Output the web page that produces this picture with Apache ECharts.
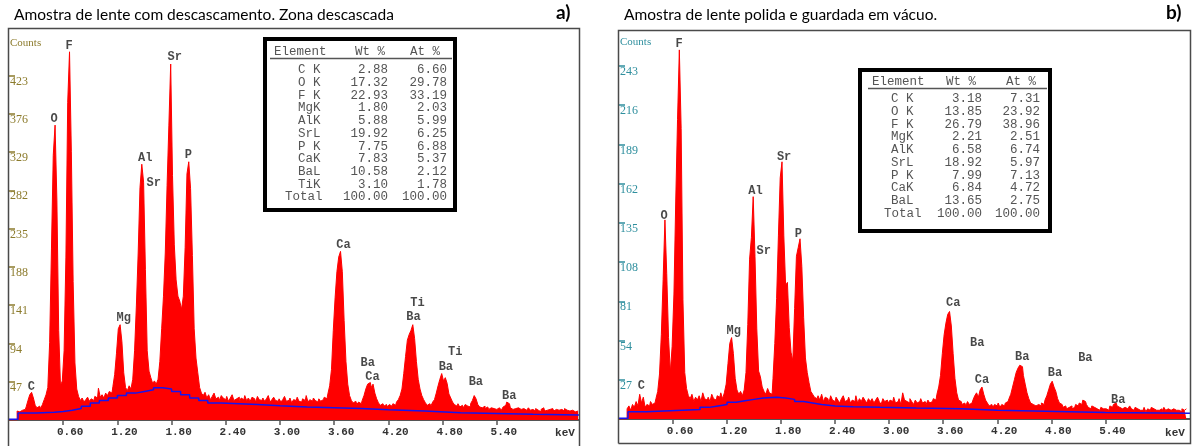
<!DOCTYPE html>
<html><head><meta charset="utf-8">
<script src="https://cdn.jsdelivr.net/npm/echarts@6/dist/echarts.min.js"></script>
<style>html,body{margin:0;padding:0;background:#fff}#c{width:1193px;height:446px}</style>
</head><body><div id="c"></div>
<script>
// channel width (keV) of the spectra below; first channel at 0.00 keV
const binWidth = 0.02;

// Panel a) counts per channel, 0.00 .. 6.30 keV
const specA = [
 0,0,0,0,0,11,10,12,11,13,
 16,24,31,34,27,18,15,17,14,19,
 25,31,40,95,210,325,362,270,110,42,
 48,85,200,390,452,330,170,70,38,29,
 24,27,22,25,28,23,26,24,29,27,
 39,28,31,27,33,30,35,33,41,56,
 82,112,117,96,58,40,36,42,38,50,
 85,140,205,285,314,292,185,85,60,52,
 45,48,44,50,72,112,152,205,288,362,
 437,300,215,172,152,146,136,152,212,302,
 317,284,202,112,76,58,40,33,30,34,
 27,31,25,29,33,26,28,24,30,27,
 25,29,23,27,31,24,26,28,22,27,
 25,30,24,27,23,28,26,22,29,25,
 24,27,23,26,30,22,25,28,24,23,
 26,22,25,29,23,24,27,21,25,24,
 28,23,22,26,24,30,22,25,23,27,
 24,22,26,23,25,28,26,32,42,62,
 110,150,182,200,207,182,122,72,44,30,
 24,21,23,19,22,20,24,30,38,44,
 46,40,44,33,26,21,18,20,17,19,
 16,19,17,20,18,22,25,30,38,57,
 78,98,105,110,117,100,72,50,38,30,
 25,21,18,20,17,22,25,33,42,50,
 57,48,52,45,32,27,22,19,17,20,
 16,18,15,19,17,16,20,24,30,26,
 19,16,15,17,14,16,13,15,14,16,
 13,15,14,12,16,18,22,20,15,13,
 14,12,15,13,11,14,12,13,15,12,
 13,11,14,12,10,13,15,11,12,13,
 12,14,11,13,12,10,13,11,14,12,
 11,13,12,10,12,11
];

// Panel b) counts per channel, 0.00 .. 6.30 keV
const specB = [
 0,0,0,0,0,7,9,6,10,8,
 12,9,17,11,15,8,10,9,12,10,
 11,14,19,31,58,96,137,100,56,32,
 50,86,150,206,254,200,82,32,21,16,
 14,17,12,15,13,16,12,18,14,13,
 15,12,17,14,13,16,15,18,14,18,
 24,38,52,56,45,28,20,17,19,16,
 20,32,65,110,125,153,112,62,33,29,
 22,19,17,21,18,17,28,52,83,126,
 166,177,126,92,94,63,46,40,76,112,
 118,124,105,70,42,32,25,19,17,15,
 14,16,13,17,12,15,14,11,16,13,
 12,15,13,11,14,16,12,13,15,11,
 13,12,16,11,14,12,15,13,11,14,
 12,14,11,13,15,12,10,14,12,13,
 11,13,12,15,11,12,14,10,18,13,
 12,11,14,12,10,13,11,12,14,11,
 12,10,13,11,12,14,13,17,22,30,
 45,58,66,72,74,64,45,28,18,13,
 12,10,11,9,12,10,11,13,16,18,
 15,20,22,17,13,11,9,10,8,10,
 9,11,8,10,9,11,12,14,17,22,
 27,32,35,37,36,30,24,18,14,11,
 10,9,8,10,9,11,10,13,16,20,
 24,26,22,19,14,11,10,8,9,7,
 8,9,7,8,10,9,11,10,13,12,
 10,8,7,9,8,7,8,6,8,7,
 7,8,6,9,8,10,11,9,8,7,
 6,8,7,6,9,7,6,8,7,6,
 7,6,8,5,7,6,8,7,6,7,
 6,7,5,8,6,7,6,5,7,6,
 7,6,5,7,6,7
];

// fitted background (blue step line): energy (keV) and counts
const bgEnergyA = [0,0.10,0.30,0.50,0.60,0.70,0.80,0.90,1.00,1.10,1.20,1.30,1.40,1.50,1.60,1.70,1.80,1.90,2.00,2.10,2.20,2.35,2.55,2.75,3.00,3.30,3.60,3.90,4.20,4.60,5.00,5.40,5.80,6.31];
const bgCountsA = [1,8.5,9.5,10.5,12,14,17,21,24,27,30,33,35,37,39.5,38,35,31,27,24,21,20,19,17.5,16,15,14,12.5,11,9,8,7,6,6];
const bgEnergyB = [0,0.10,0.30,0.50,0.70,0.90,1.00,1.10,1.20,1.30,1.40,1.50,1.60,1.75,1.85,1.95,2.05,2.15,2.25,2.40,2.60,2.90,3.30,3.80,4.20,4.60,5.00,5.40,6.34];
const bgCountsB = [0.5,5,5.5,6,6.5,8,9,10,11.5,12.5,13.5,14.5,15,14.5,13.5,12,11,10,9,8.5,8,7.5,7,6,5.5,5,4.5,4,4];

// axis tick labels
const xTicks = [0.6,1.2,1.8,2.4,3.0,3.6,4.2,4.8,5.4];
const yTicksA = [47,94,141,188,235,282,329,376,423];
const yTicksB = [27,54,81,108,135,162,189,216,243];

// peak labels: energy (keV), counts, text
const peakE_A = [0.247,0.498,0.664,1.270,1.509,1.602,1.835,1.986,3.702,3.972,4.023,4.522,4.477,4.939,4.836,5.168,5.537];
const peakC_A = [40,369,459,125,322,291,446,325,215,70,53,144,126,83,65,47,30];
const peakT_A = ['C','O','F','Mg','Al','Sr','Sr','P','Ca','Ba','Ca','Ti','Ba','Ti','Ba','Ba','Ba'];
const peakE_B = [0.248,0.500,0.667,1.274,1.515,1.608,1.833,1.992,3.710,3.978,4.030,4.478,4.840,5.178,5.544];
const peakC_B = [22.7,140,258,60.7,157,115.6,180,127,79.8,52,27,43,31.6,42,13];
const peakT_B = ['C','O','F','Mg','Al','Sr','Sr','P','Ca','Ba','Ca','Ba','Ba','Ba','Ba'];

// quantification tables
const tabElemA = ['C K','O K','F K','MgK','AlK','SrL','P K','CaK','BaL','TiK','Total'];
const tabWtA = ['2.88','17.32','22.93','1.80','5.88','19.92','7.75','7.83','10.58','3.10','100.00'];
const tabAtA = ['6.60','29.78','33.19','2.03','5.99','6.25','6.88','5.37','2.12','1.78','100.00'];
const tabElemB = ['C K','O K','F K','MgK','AlK','SrL','P K','CaK','BaL','Total'];
const tabWtB = ['3.18','13.85','26.79','2.21','6.58','18.92','7.99','6.84','13.65','100.00'];
const tabAtB = ['7.31','23.92','38.96','2.51','6.74','5.97','7.13','4.72','2.75','100.00'];

const titleA = 'Amostra de lente com descascamento. Zona descascada';
const titleB = 'Amostra de lente polida e guardada em vácuo.';

const chart = echarts.init(document.getElementById('c'));

const RED = '#ff0000', BLUE = '#1414f0';
const colA = '#8c7b2c', colB = '#2f8f9e';
const monoFont = '"Liberation Mono", "DejaVu Sans Mono", monospace';

function xAxisFor(g, max) {
  return {
    gridIndex: g, type: 'value', min: 0, max: max,
    axisLine: {show: true, onZero: false, lineStyle: {color: '#555', width: 2}},
    axisTick: {show: true, length: 5, customValues: xTicks, lineStyle: {color: '#555', width: 1.5}},
    axisLabel: {customValues: xTicks, formatter: v => v.toFixed(2), fontFamily: monoFont,
      fontWeight: 'bold', fontSize: 11, color: '#333', margin: 7, padding: [0, 0, 0, 14]},
    splitLine: {show: false}
  };
}
function yAxisFor(g, max, ticks, col) {
  return {
    gridIndex: g, type: 'value', min: 0, max: max,
    axisLine: {show: false},
    axisTick: {show: true, inside: true, length: 6, customValues: ticks, lineStyle: {color: col, width: 1.5}},
    axisLabel: {inside: true, customValues: ticks, color: col, fontFamily: '"Liberation Serif", serif',
      fontSize: 12, verticalAlign: 'top', margin: 1},
    splitLine: {show: false}
  };
}
function specSeries(idx, arr) {
  return {
    type: 'line', xAxisIndex: idx, yAxisIndex: idx, step: 'middle', symbol: 'none',
    data: arr.map((v, i) => [i * binWidth, v]),
    lineStyle: {color: RED, width: 1}, areaStyle: {color: RED, opacity: 1},
    z: 2, silent: true, animation: false
  };
}
function bgSeries(idx, es, cs) {
  return {
    type: 'line', xAxisIndex: idx, yAxisIndex: idx, step: 'end', symbol: 'none',
    data: es.map((e, i) => [e, cs[i]]),
    lineStyle: {color: BLUE, width: 1.5}, z: 3, silent: true, animation: false
  };
}
function labelSeries(idx, es, cs, ts) {
  return {
    type: 'scatter', xAxisIndex: idx, yAxisIndex: idx, symbolSize: 1,
    itemStyle: {color: 'rgba(0,0,0,0)'},
    data: es.map((e, i) => ({value: [e, cs[i]], name: ts[i]})),
    label: {show: true, position: 'inside', formatter: '{b}', fontFamily: monoFont,
      fontWeight: 'bold', fontSize: 12, color: '#1a1a1a'},
    z: 5, silent: true, animation: false
  };
}

function tableGraphics(box, hdr, cols, rowY0, names, wts, ats, nameX, totalX) {
  const els = [];
  els.push({type: 'rect', shape: box, style: {fill: '#fff', stroke: '#000', lineWidth: 4}, z: 10});
  const f = '12.5px ' + monoFont;
  const tc = '#555';
  els.push({type: 'text', x: hdr.ex, y: hdr.y, style: {text: 'Element', font: f, fill: tc, textVerticalAlign: 'middle'}, z: 11});
  els.push({type: 'text', x: hdr.wx, y: hdr.y, style: {text: 'Wt %', font: f, fill: tc, textVerticalAlign: 'middle'}, z: 11});
  els.push({type: 'text', x: hdr.ax, y: hdr.y, style: {text: 'At %', font: f, fill: tc, textVerticalAlign: 'middle'}, z: 11});
  els.push({type: 'line', shape: {x1: hdr.u1, y1: hdr.uy, x2: hdr.u2, y2: hdr.uy}, style: {stroke: '#555', lineWidth: 1.5}, z: 11});
  names.forEach((n, i) => {
    const y = rowY0 + i * 12.7;
    els.push({type: 'text', x: n === 'Total' ? totalX : nameX, y: y, style: {text: n, font: f, fill: tc, textVerticalAlign: 'middle'}, z: 11});
    els.push({type: 'text', x: cols.w, y: y, style: {text: wts[i], font: f, fill: tc, textAlign: 'right', textVerticalAlign: 'middle'}, z: 11});
    els.push({type: 'text', x: cols.a, y: y, style: {text: ats[i], font: f, fill: tc, textAlign: 'right', textVerticalAlign: 'middle'}, z: 11});
  });
  return els;
}

const frameCol = '#4a4a4a';
const graphics = [
  // titles
  {type: 'text', x: 14, y: 15, style: {text: titleA, font: '15.5px Lato, "Open Sans", sans-serif', fill: '#000', textVerticalAlign: 'middle'}},
  {type: 'text', x: 556, y: 13, style: {text: 'a)', font: 'bold 19px Lato, "Open Sans", sans-serif', fill: '#000', textVerticalAlign: 'middle'}},
  {type: 'text', x: 624, y: 15, style: {text: titleB, font: '15.5px Lato, "Open Sans", sans-serif', fill: '#000', textVerticalAlign: 'middle'}},
  {type: 'text', x: 1166, y: 13, style: {text: 'b)', font: 'bold 19px Lato, "Open Sans", sans-serif', fill: '#000', textVerticalAlign: 'middle'}},
  // frames
  {type: 'polyline', shape: {points: [[8.5, 446], [8.5, 28.5], [579.5, 28.5], [579.5, 446]]}, style: {stroke: frameCol, lineWidth: 1.5, fill: null}, z: 20},
  {type: 'polyline', shape: {points: [[618.5, 443.5], [618.5, 30.5], [1190.5, 30.5], [1190.5, 443.5], [618.5, 443.5]]}, style: {stroke: frameCol, lineWidth: 1.5, fill: null}, z: 20},
  // counts / keV
  {type: 'text', x: 10, y: 43, style: {text: 'Counts', font: '11px "Liberation Serif", serif', fill: colA, textVerticalAlign: 'middle'}},
  {type: 'text', x: 620, y: 42, style: {text: 'Counts', font: '11px "Liberation Serif", serif', fill: colB, textVerticalAlign: 'middle'}},
  {type: 'text', x: 565, y: 433, style: {text: 'keV', font: 'bold 11px ' + monoFont, fill: '#333', textAlign: 'center', textVerticalAlign: 'middle'}},
  {type: 'text', x: 1175, y: 433, style: {text: 'keV', font: 'bold 11px ' + monoFont, fill: '#333', textAlign: 'center', textVerticalAlign: 'middle'}}
].concat(
  tableGraphics({x: 265, y: 39, width: 190, height: 171},
    {ex: 274, wx: 355, ax: 410, y: 51.5, u1: 270, u2: 452, uy: 58.5},
    {w: 388, a: 447}, 70, tabElemA, tabWtA, tabAtA, 298, 285),
  tableGraphics({x: 860, y: 70, width: 190, height: 161},
    {ex: 872, wx: 946, ax: 1006, y: 82, u1: 868, u2: 1047, uy: 88.5},
    {w: 982, a: 1040}, 99, tabElemB, tabWtB, tabAtB, 891, 884)
);

chart.setOption({
  animation: false,
  backgroundColor: '#fff',
  grid: [
    {left: 9, top: 29, width: 570, height: 391},
    {left: 619, top: 31, width: 571, height: 388}
  ],
  xAxis: [xAxisFor(0, 6.31), xAxisFor(1, 6.34)],
  yAxis: [yAxisFor(0, 480, yTicksA, colA), yAxisFor(1, 267, yTicksB, colB)],
  series: [
    specSeries(0, specA), bgSeries(0, bgEnergyA, bgCountsA), labelSeries(0, peakE_A, peakC_A, peakT_A),
    specSeries(1, specB), bgSeries(1, bgEnergyB, bgCountsB), labelSeries(1, peakE_B, peakC_B, peakT_B)
  ],
  graphic: graphics
});
</script>
</body></html>
